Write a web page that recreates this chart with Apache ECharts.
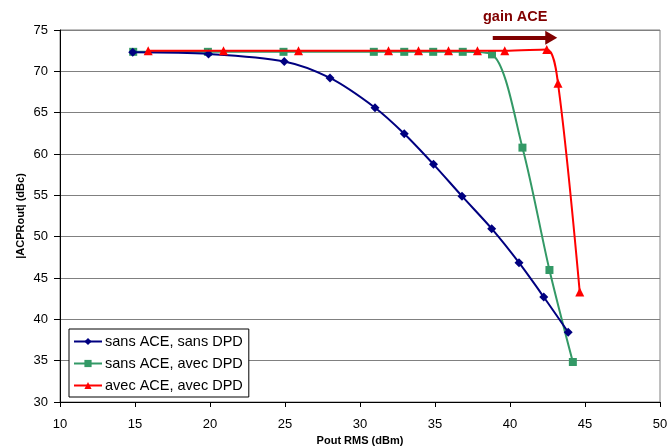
<!DOCTYPE html>
<html>
<head>
<meta charset="utf-8">
<script src="https://cdn.jsdelivr.net/npm/echarts@6/dist/echarts.min.js"></script>
<style>
html,body{margin:0;padding:0;background:#fff;}
#c{width:668px;height:447px;}
</style>
</head>
<body>
<div id="c"></div>
<script>
var seriesNames = ["sans ACE, sans DPD", "sans ACE, avec DPD", "avec ACE, avec DPD"];
var sansAceSansDpd = [[14.85,72.3],[19.9,72.1],[24.95,71.2],[28.0,69.2],[31.0,65.6],[32.95,62.45],[34.9,58.75],[36.8,54.9],[38.78,50.97],[40.6,46.85],[42.25,42.7],[43.88,38.44]];
var sansAceAvecDpd = [[14.88,72.36],[19.86,72.36],[24.9,72.36],[30.92,72.36],[32.95,72.36],[34.88,72.36],[36.85,72.36],[38.8,72.05],[40.83,60.77],[42.63,45.97],[44.19,34.84]];
var avecAceAvecDpd = [[15.88,72.5],[20.9,72.5],[25.9,72.5],[31.9,72.5],[33.9,72.5],[35.9,72.5],[37.83,72.5],[39.65,72.5],[42.45,72.65],[43.2,68.55],[44.65,43.3]];
var arrowFrom = [38.85, 74.05];
var arrowTo = [42.75, 74.05];
var annotationText = "gain ACE";

var font = "Liberation Sans, Arial, sans-serif";
var chart = echarts.init(document.getElementById('c'));
chart.setOption({
  animation: false,
  backgroundColor: '#fff',
  textStyle: {fontFamily: font},
  grid: {left: 60, right: 8, top: 30, bottom: 45, show: true, borderColor: '#808080', borderWidth: 1,
         containLabel: false, outerBoundsMode: 'none'},
  xAxis: {
    type: 'value', min: 10, max: 50, interval: 5,
    name: 'Pout RMS (dBm)', nameLocation: 'middle', nameGap: 32,
    nameTextStyle: {fontFamily: font, fontWeight: 'bold', fontSize: 11, color: '#000'},
    axisLine: {lineStyle: {color: '#000', width: 1}},
    axisTick: {show: true, length: 5, lineStyle: {color: '#000'}},
    axisLabel: {fontFamily: font, fontSize: 13, color: '#000', margin: 16},
    splitLine: {show: false}
  },
  yAxis: {
    type: 'value', min: 30, max: 75, interval: 5,
    name: '|ACPRout| (dBc)', nameLocation: 'middle', nameGap: 34, nameRotate: 90,
    nameMoveOverlap: false,
    nameTextStyle: {fontFamily: font, fontWeight: 'bold', fontSize: 11, color: '#000'},
    axisLine: {show: true, lineStyle: {color: '#000', width: 1}},
    axisTick: {show: true, length: 6, lineStyle: {color: '#000'}},
    axisLabel: {fontFamily: font, fontSize: 13, color: '#000', margin: 12},
    splitLine: {show: true, lineStyle: {color: '#808080', width: 1}}
  },
  legend: {
    orient: 'vertical', left: 69, top: 329,
    backgroundColor: '#fff', borderColor: '#000', borderWidth: 1,
    padding: [5, 6, 4, 4], itemGap: 7, itemWidth: 28, itemHeight: 9,
    textStyle: {fontFamily: font, fontSize: 14.5, color: '#000', padding: [0, 0, 0, -2]},
    data: seriesNames
  },
  graphic: [{
    type: 'text', left: 483, top: 9,
    style: {text: annotationText, fill: '#800000', font: 'bold 14.5px ' + font}
  }],
  series: [
    {
      name: seriesNames[0], type: 'line', data: sansAceSansDpd, smooth: 0.3,
      symbol: 'diamond', symbolSize: 9,
      itemStyle: {color: '#000080'}, lineStyle: {color: '#000080', width: 2}, z: 3
    },
    {
      name: seriesNames[1], type: 'line', data: sansAceAvecDpd, smooth: 0.3,
      symbol: 'rect', symbolSize: 8,
      itemStyle: {color: '#339966'}, lineStyle: {color: '#339966', width: 2}, z: 2
    },
    {
      name: seriesNames[2], type: 'line', data: avecAceAvecDpd, smooth: 0.3,
      symbol: 'triangle', symbolSize: 9,
      itemStyle: {color: '#ff0000'}, lineStyle: {color: '#ff0000', width: 2}, z: 4,
      markLine: {
        silent: true, symbol: ['none', 'triangle'], symbolSize: [14, 12],
        label: {show: false},
        lineStyle: {color: '#800000', width: 4, type: 'solid'},
        data: [[{coord: arrowFrom}, {coord: arrowTo}]]
      }
    }
  ]
});
</script>
</body>
</html>
